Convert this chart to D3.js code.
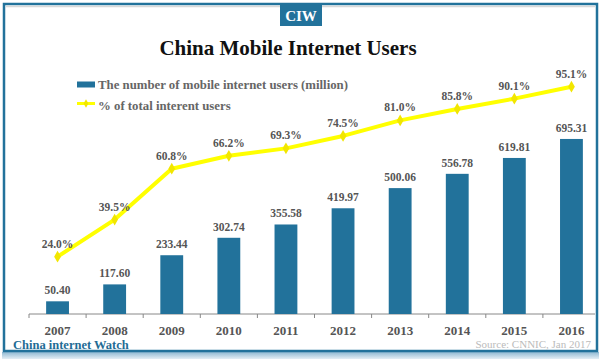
<!DOCTYPE html>
<html>
<head>
<meta charset="utf-8">
<script src="https://cdn.jsdelivr.net/npm/d3@7"></script>
<style>
  body { margin: 0; background: #fff; }
  svg { display: block; }
</style>
</head>
<body>
<script>
// chart data
var years = ["2007", "2008", "2009", "2010", "2011", "2012", "2013", "2014", "2015", "2016"];
var users = [50.40, 117.60, 233.44, 302.74, 355.58, 419.97, 500.06, 556.78, 619.81, 695.31];
var share = [24.0, 39.5, 60.8, 66.2, 69.3, 74.5, 81.0, 85.8, 90.1, 95.1];
var legendLabels = ["The number of mobile internet users (million)", "% of total interent users"];

var W = 600, H = 359;
var serif = "'Liberation Serif', 'DejaVu Serif', serif";
var blue = "#22729b";

var svg = d3.select("body").append("svg")
  .attr("width", W)
  .attr("height", H);

// frame + shadow
var grad = svg.append("defs").append("linearGradient")
  .attr("id", "shadow").attr("x1", 0).attr("y1", 0).attr("x2", 0).attr("y2", 1);
grad.append("stop").attr("offset", "0%").attr("stop-color", "#8fb9d2");
grad.append("stop").attr("offset", "100%").attr("stop-color", "#e4eef5");
svg.append("rect").attr("x", 2).attr("y", 352).attr("width", 597).attr("height", 7)
  .attr("fill", "url(#shadow)");
svg.append("rect").attr("x", 4).attr("y", 4).attr("width", 593).attr("height", 347)
  .attr("fill", "#fff").attr("stroke", blue).attr("stroke-width", 2.5);
svg.append("line").attr("x1", 6).attr("x2", 595).attr("y1", 6.5).attr("y2", 6.5)
  .attr("stroke", "#d8d8d8").attr("stroke-width", 1.5);

// badge
svg.append("rect").attr("x", 280).attr("y", 5).attr("width", 42).attr("height", 21).attr("fill", blue);
svg.append("text").attr("x", 301).attr("y", 21).attr("text-anchor", "middle")
  .attr("font-family", serif).attr("font-weight", "bold").attr("font-size", 15)
  .attr("fill", "#fff").text("CIW");

// title
svg.append("text").attr("x", 288).attr("y", 55).attr("text-anchor", "middle")
  .attr("font-family", serif).attr("font-weight", "bold").attr("font-size", 21)
  .attr("fill", "#111").text("China Mobile Internet Users");

// scales
var x = d3.scaleBand().domain(years).range([29, 600]).paddingInner(0.6).paddingOuter(0.3);
var y = d3.scaleLinear().domain([0, 800]).range([314, 112.6]);
var y2 = d3.scaleLinear().domain([0, 100]).range([314, 75]);
var step = x.step();

// x axis
var axisG = svg.append("g").attr("transform", "translate(0,314)");
axisG.append("line").attr("x1", 29).attr("x2", 595).attr("y1", 0).attr("y2", 0)
  .attr("stroke", "#888").attr("stroke-width", 1);
axisG.selectAll(".tk").data(years).enter().append("line")
  .attr("x1", function(d) { return x(d) + x.bandwidth() / 2 - step / 2; })
  .attr("x2", function(d) { return x(d) + x.bandwidth() / 2 - step / 2; })
  .attr("y1", 0).attr("y2", 4)
  .attr("stroke", "#888");
var xAxis = d3.axisBottom(x).tickSize(0).tickPadding(12);
var xg = svg.append("g").attr("transform", "translate(0,314)").call(xAxis);
xg.select(".domain").remove();
xg.selectAll("text")
  .attr("font-family", serif).attr("font-weight", "bold").attr("font-size", 13)
  .attr("fill", "#555");

// bars
svg.selectAll(".bar").data(years).enter().append("rect")
  .attr("x", function(d) { return x(d); })
  .attr("y", function(d, i) { return y(users[i]); })
  .attr("width", x.bandwidth())
  .attr("height", function(d, i) { return y(0) - y(users[i]); })
  .attr("fill", blue);

svg.selectAll(".barlabel").data(years).enter().append("text")
  .attr("x", function(d) { return x(d) + x.bandwidth() / 2; })
  .attr("y", function(d, i) { return y(users[i]) - 7; })
  .attr("text-anchor", "middle")
  .attr("font-family", serif).attr("font-weight", "bold").attr("font-size", 11.5)
  .attr("fill", "#555")
  .text(function(d, i) { return users[i].toFixed(2); });

// line
var line = d3.line()
  .x(function(d, i) { return x(years[i]) + x.bandwidth() / 2; })
  .y(function(d) { return y2(d); });

svg.append("path")
  .attr("d", line(share))
  .attr("fill", "none")
  .attr("stroke", "#ffff00")
  .attr("stroke-width", 4)
  .attr("stroke-linejoin", "round");

var diamond = d3.symbol().type(d3.symbolDiamond).size(40);
svg.selectAll(".pt").data(share).enter().append("path")
  .attr("d", diamond)
  .attr("transform", function(d, i) {
    return "translate(" + (x(years[i]) + x.bandwidth() / 2) + "," + y2(d) + ")";
  })
  .attr("fill", "#f2e600");

svg.selectAll(".linelabel").data(share).enter().append("text")
  .attr("x", function(d, i) { return x(years[i]) + x.bandwidth() / 2; })
  .attr("y", function(d) { return y2(d) - 9; })
  .attr("text-anchor", "middle")
  .attr("font-family", serif).attr("font-weight", "bold").attr("font-size", 11.5)
  .attr("fill", "#555")
  .text(function(d) { return d.toFixed(1) + "%"; });

// legend
var lg = svg.append("g");
lg.append("rect").attr("x", 77).attr("y", 81.5).attr("width", 18).attr("height", 6).attr("fill", blue);
lg.append("line").attr("x1", 77).attr("x2", 95).attr("y1", 103.5).attr("y2", 103.5)
  .attr("stroke", "#ffff00").attr("stroke-width", 3);
lg.append("path").attr("d", d3.symbol().type(d3.symbolDiamond).size(20))
  .attr("transform", "translate(86,103.5)").attr("fill", "#f2e600");
lg.selectAll("text").data(legendLabels).enter().append("text")
  .attr("x", 98)
  .attr("y", function(d, i) { return 89 + i * 21; })
  .attr("font-family", serif).attr("font-weight", "bold").attr("font-size", 12.8)
  .attr("fill", "#666")
  .text(function(d) { return d; });

// footer
svg.append("text").attr("x", 13).attr("y", 349)
  .attr("font-family", serif).attr("font-weight", "bold").attr("font-size", 12.5)
  .attr("fill", "#1f6c95").text("China internet Watch");
svg.append("text").attr("x", 591).attr("y", 348).attr("text-anchor", "end")
  .attr("font-family", serif).attr("font-size", 11)
  .attr("fill", "#bbb").text("Source: CNNIC, Jan 2017");
</script>
</body>
</html>
